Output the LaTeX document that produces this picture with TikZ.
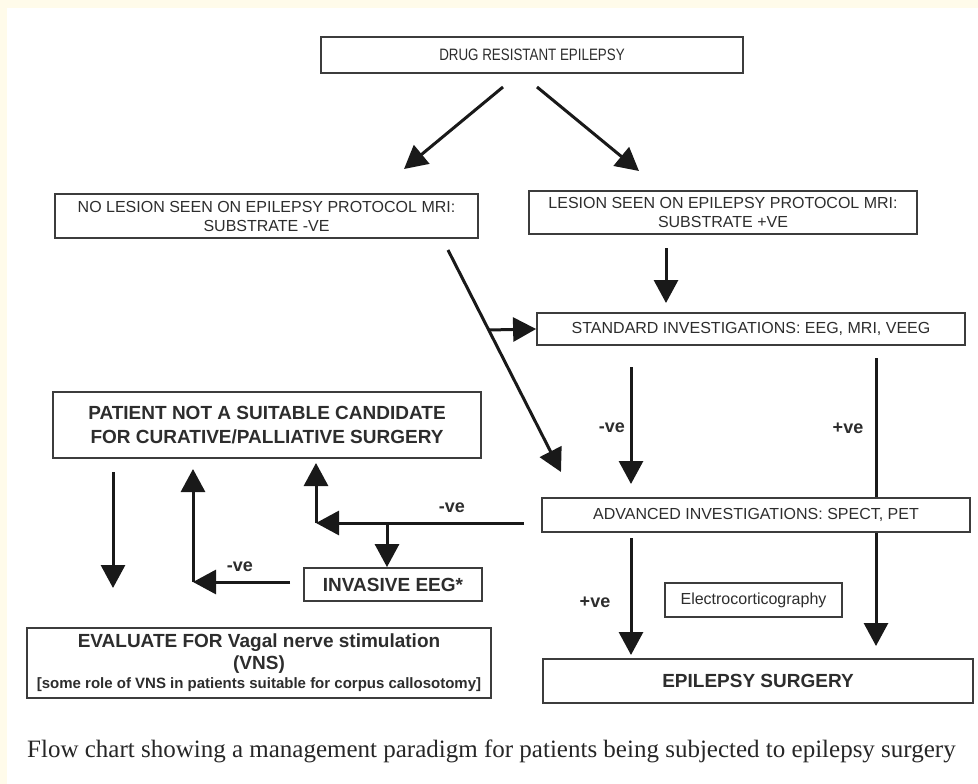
\documentclass[tikz,border=0pt]{standalone}
\usepackage{fontspec}
\setmainfont{Liberation Sans}
\newfontfamily\capserif{Liberation Serif}
\usetikzlibrary{arrows.meta,backgrounds}
\definecolor{cream}{RGB}{255,251,234}
\definecolor{ink}{RGB}{45,45,45}
\definecolor{boxline}{RGB}{60,60,60}
\begin{document}
\begin{tikzpicture}[x=1pt,y=-1pt,
  box/.style={draw=boxline,line width=1.8pt,fill=white,inner sep=0pt,align=center,text=ink},
  arr/.style={line width=3pt,draw=black!90,-{Triangle[width=24pt,length=23pt]}},
  lbl/.style={font=\fontsize{18}{18}\selectfont\bfseries,text=ink,inner sep=0pt},
  fs/.style={font=\fontsize{16}{19}\selectfont},
  fb/.style={font=\fontsize{19}{24}\selectfont\bfseries}]
\useasboundingbox (0,0) rectangle (978,784);
\begin{pgfonlayer}{background}
\fill[cream] (0,0) rectangle (978,784);
\fill[white] (7,8) rectangle (978,784);
\end{pgfonlayer}

% boxes
\node[box,line width=2.5pt,minimum width=422pt,minimum height=36pt,font=\fontsize{16.5}{19}\selectfont] (top) at (532,55) {\scalebox{0.81}[1]{DRUG RESISTANT EPILEPSY}};
\node[box,fs,minimum width=423pt,minimum height=44pt] (nol) at (266.5,216) {NO LESION SEEN ON EPILEPSY PROTOCOL MRI:\\SUBSTRATE -VE};
\node[box,fs,minimum width=388pt,minimum height=43pt] (les) at (723,212.5) {LESION SEEN ON EPILEPSY PROTOCOL MRI:\\SUBSTRATE +VE};
\node[box,fs,minimum width=428pt,minimum height=32pt] (std) at (751,329) {STANDARD INVESTIGATIONS: EEG, MRI, VEEG};
\node[box,fb,minimum width=428pt,minimum height=66pt] (pat) at (267,425) {PATIENT NOT A SUITABLE CANDIDATE\\FOR CURATIVE/PALLIATIVE SURGERY};
\node[box,fb,minimum width=178pt,minimum height=33pt] (inv) at (393,584.5) {INVASIVE EEG*};
\node[box,fs,minimum width=428pt,minimum height=34pt] (adv) at (756,515) {ADVANCED INVESTIGATIONS: SPECT, PET};
\node[box,fs,line width=1.5pt,minimum width=177pt,minimum height=34pt] (ecog) at (753.5,600) {Electrocorticography};
\node[box,fb,minimum width=430pt,minimum height=44pt] (surg) at (758,681) {EPILEPSY SURGERY};
\node[box,font=\fontsize{19}{22}\selectfont\bfseries,minimum width=464pt,minimum height=70pt] (vns) at (259,663)
  {EVALUATE FOR Vagal nerve stimulation\\(VNS)\\[-3pt]{\fontsize{15}{18}\selectfont [some role of VNS in patients suitable for corpus callosotomy]}};

% labels
\node[lbl] (l1) at (612,428) {-ve};
\node[lbl] (l2) at (848,428) {+ve};
\node[lbl] (l3) at (595,602) {+ve};
\node[lbl] (l4) at (452,508) {-ve};
\node[lbl] (l5) at (240,567) {-ve};

% caption
\node[anchor=base west,inner sep=0pt,font=\capserif\fontsize{25}{28}\selectfont,text=black!85] (cap) at (27,757)
  {Flow chart showing a management paradigm for patients being subjected to epilepsy surgery};

% connector end points
\coordinate (t1) at (503,87);
\coordinate (t1e) at (404,169);
\coordinate (t2) at (537,87);
\coordinate (t2e) at (639,171);
\coordinate (ls) at (666,248);
\coordinate (lse) at (666,303);
\coordinate (nd) at (448,250);
\coordinate (nde) at (561,472);
\coordinate (br) at (489,330);
\coordinate (sn) at (631,367);
\coordinate (sne) at (631,484);
\coordinate (sp) at (876,358);
\coordinate (spe) at (876,646);
\coordinate (ap) at (631,538);
\coordinate (ape) at (631,655);
\coordinate (an) at (524,523);
\coordinate (c1) at (316,523);
\coordinate (c1e) at (316,463);
\coordinate (b3) at (387,523);
\coordinate (iv) at (290,582);
\coordinate (c2) at (193,582);
\coordinate (c2e) at (193,469);
\coordinate (pd) at (113,472);
\coordinate (pde) at (113,588);

\begin{pgfonlayer}{background}
\draw[arr] (t1) -- (t1e);
\draw[arr] (t2) -- (t2e);
\draw[arr] (ls) -- (lse);
\draw[arr] (nd) -- (nde);
\draw[arr] (br) -- (std.west);
\draw[arr] (sn) -- (sne);
\draw[arr] (sp) -- (spe);
\draw[arr] (ap) -- (ape);
\draw[arr] (an) -- (c1);
\draw[arr] (c1) -- (c1e);
\draw[arr] (b3) -- (b3 |- inv.north);
\draw[arr] (iv) -- (c2);
\draw[arr] (c2) -- (c2e);
\draw[arr] (pd) -- (pde);
\end{pgfonlayer}
\end{tikzpicture}
\end{document}
